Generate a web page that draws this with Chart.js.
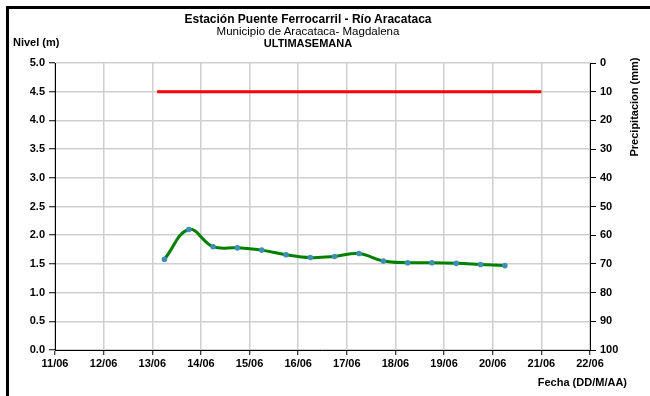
<!DOCTYPE html>
<html>
<head>
<meta charset="utf-8">
<script src="https://cdn.jsdelivr.net/npm/chart.js@4.4.1/dist/chart.umd.min.js"></script>
<style>
  body { margin: 0; background: #fff; }
  #wrap { position: relative; width: 650px; height: 396px; overflow: hidden; font-family: "Liberation Sans", Arial, sans-serif; }
  #frame { position: absolute; left: 6px; top: 6px; right: -10px; bottom: -10px; border-top: 3px solid #000; border-left: 3px solid #000; }
  canvas { position: absolute; left: 0; top: 0; }
  .txt { position: absolute; font-size: 11px; line-height: 12px; color: #000; white-space: nowrap; }
  .b { font-weight: bold; }
</style>
</head>
<body>
<div id="wrap">
  <div id="frame"></div>
  <canvas id="chart" width="650" height="396"></canvas>
  <div class="txt b" style="left:0;width:616px;text-align:center;top:13px;font-size:12px;">Estación Puente Ferrocarril - Río Aracataca</div>
  <div class="txt" style="left:0;width:616px;text-align:center;top:25px;font-size:11.5px;">Municipio de Aracataca- Magdalena</div>
  <div class="txt b" style="left:0;width:616px;text-align:center;top:37px;">ULTIMASEMANA</div>
  <div class="txt b" style="left:13px;top:36px;">Nivel (m)</div>
  <div class="txt b" style="left:584px;top:101px;width:100px;text-align:center;transform:rotate(-90deg);">Precipitacion (mm)</div>
  <div class="txt b" style="right:23px;top:376px;">Fecha (DD/M/AA)</div>
</div>
<script>
// dates as day-of-month (June), half-day readings
const nivelDias = [13.25, 13.75, 14.25, 14.75, 15.25, 15.75, 16.25, 16.75, 17.25, 17.75, 18.25, 18.75, 19.25, 19.75, 20.25];
const nivelValores = [1.58, 2.10, 1.80, 1.78, 1.74, 1.66, 1.61, 1.63, 1.68, 1.55, 1.52, 1.52, 1.51, 1.49, 1.47];

const precipDias = [13.1, 21.0];
const precipValores = [10, 10];

const diaMin = 11;
const diaMax = 22;
const mes = '06';

const FONT = { family: '"Liberation Sans", Arial, sans-serif', size: 11, weight: 'bold' };
const GRID = '#cfcfcf';

const ctx = document.getElementById('chart').getContext('2d');

new Chart(ctx, {
    type: 'line',
    data: {
        datasets: [
            {
                label: 'Nivel',
                data: nivelDias.map((d, i) => ({ x: d, y: nivelValores[i] })),
                borderColor: '#008000',
                borderWidth: 3,
                tension: 0.4,
                pointRadius: 2.8,
                pointBackgroundColor: '#3f8fb5',
                pointBorderWidth: 0,
                yAxisID: 'y'
            },
            {
                label: 'Precipitacion',
                data: precipDias.map((d, i) => ({ x: d, y: precipValores[i] })),
                borderColor: '#ff0000',
                borderWidth: 3,
                pointRadius: 0,
                yAxisID: 'y1'
            }
        ]
    },
    options: {
        responsive: false,
        animation: false,
        layout: { padding: { top: 63, left: 0, right: 0, bottom: 0 } },
        plugins: {
            legend: { display: false },
            tooltip: { enabled: false }
        },
        scales: {
            x: {
                type: 'linear',
                min: diaMin,
                max: diaMax,
                ticks: {
                    stepSize: 1,
                    color: '#000',
                    font: FONT,
                    padding: 2,
                    maxRotation: 0,
                    callback: v => String(v).padStart(2, '0') + '/' + mes
                },
                grid: { color: GRID, lineWidth: 1.5, tickColor: '#000', tickLength: 5, tickWidth: 1 },
                border: { color: '#000', width: 1 },
                afterFit: s => { s.height = 46; }
            },
            y: {
                position: 'left',
                min: 0,
                max: 5,
                ticks: {
                    stepSize: 0.5,
                    color: '#000',
                    font: FONT,
                    padding: 4,
                    callback: v => v.toFixed(1)
                },
                grid: { color: GRID, lineWidth: 1.5, tickColor: '#000', tickLength: 6, tickWidth: 1 },
                border: { color: '#000', width: 1 },
                afterFit: s => { s.width = 55; }
            },
            y1: {
                position: 'right',
                reverse: true,
                min: 0,
                max: 100,
                ticks: {
                    stepSize: 10,
                    color: '#000',
                    font: FONT,
                    padding: 4
                },
                grid: { drawOnChartArea: false, tickColor: '#000', tickLength: 6, tickWidth: 1 },
                border: { color: '#000', width: 1 },
                afterFit: s => { s.width = 60; }
            }
        }
    }
});
</script>
</body>
</html>
